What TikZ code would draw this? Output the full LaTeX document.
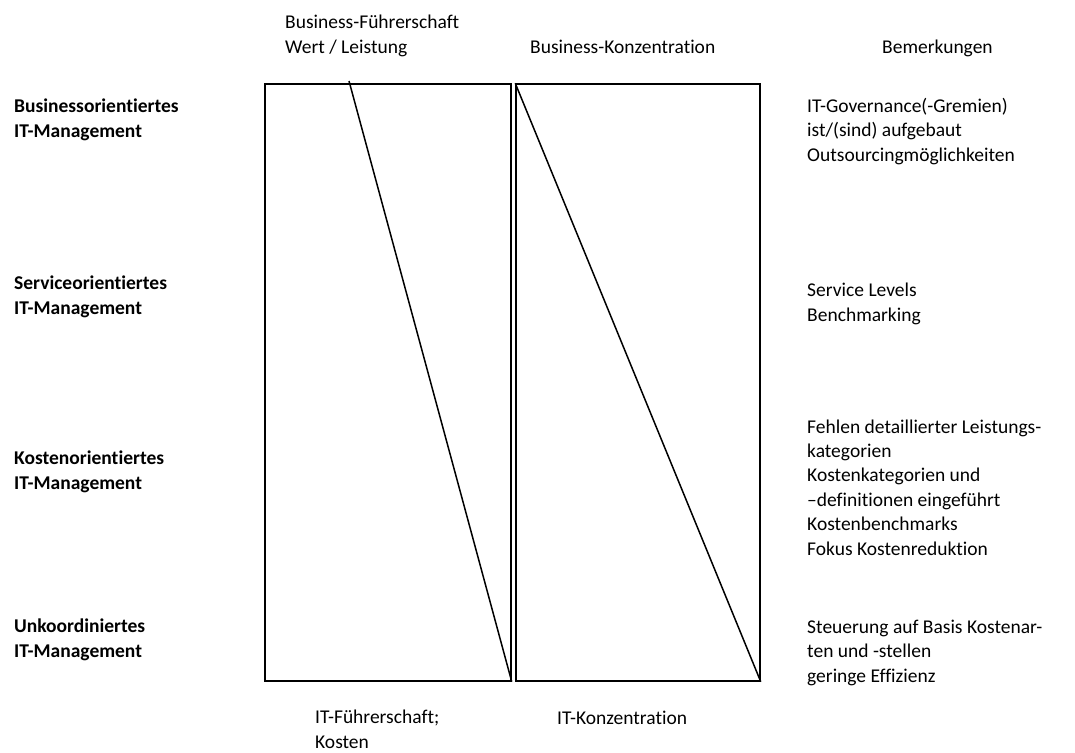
\documentclass[tikz,border=0pt]{standalone}
\usepackage{fontspec}
\setmainfont{Carlito}[Ligatures=NoCommon]
\usetikzlibrary{positioning}

\begin{document}
\fontsize{19.5}{24.4}\selectfont
\begin{tikzpicture}[x=1pt,y=-1pt,
    panel/.style={draw,line width=1.5pt,inner sep=0pt,minimum height=597pt},
    level/.style={anchor=base west,align=left,inner sep=0pt,font=\bfseries},
    note/.style={anchor=base west,align=left,inner sep=0pt}
    ]

    \useasboundingbox (0,0) rectangle (1075,752);

    % the two columns
    \node (lbox) [panel,minimum width=246pt] at (388,382.5) {};
    \node (rbox) [panel,minimum width=244pt] at (638,382.5) {};

    \coordinate (ltop) at (349,81);
    \draw[line width=1.5pt] (ltop) -- (lbox.south east);
    \draw[line width=1.5pt] (rbox.north west) -- (rbox.south east);

    % column heads (base = last line)
    \node (bfuehr) [note] at (285,53) {Business-Führerschaft\\Wert / Leistung};
    \node (bkonz) [note] at (530,53) {Business-Konzentration};
    \node (bem) [note] at (882,53) {Bemerkungen};

    % column feet
    \node (itfuehr) [note] at (315,748) {IT-Führerschaft;\\Kosten};
    \node (itkonz) [note] at (557,724) {IT-Konzentration};

    % levels
    \node (l4) [level] at (14,137) {Businessorientiertes\\IT-Management};
    \node (l3) [level] at (14,314) {Serviceorientiertes\\IT-Management};
    \node (l2) [level] at (14,489) {Kostenorientiertes\\IT-Management};
    \node (l1) [level] at (14,657) {Unkoordiniertes\\IT-Management};

    % remarks
    \node (r4) [note] at (807,161) {IT-Governance(-Gremien)\\ist/(sind) aufgebaut\\Outsourcingmöglichkeiten};
    \node (r3) [note] at (807,321) {Service Levels\\Benchmarking};
    \node (r2) [note] at (807,555) {Fehlen detaillierter Leistungs-\\kategorien\\Kostenkategorien und\\–definitionen eingeführt\\Kostenbenchmarks\\Fokus Kostenreduktion};
    \node (r1) [note] at (807,682) {Steuerung auf Basis Kostenar-\\ten und -stellen\\geringe Effizienz};

\end{tikzpicture}
\end{document}
